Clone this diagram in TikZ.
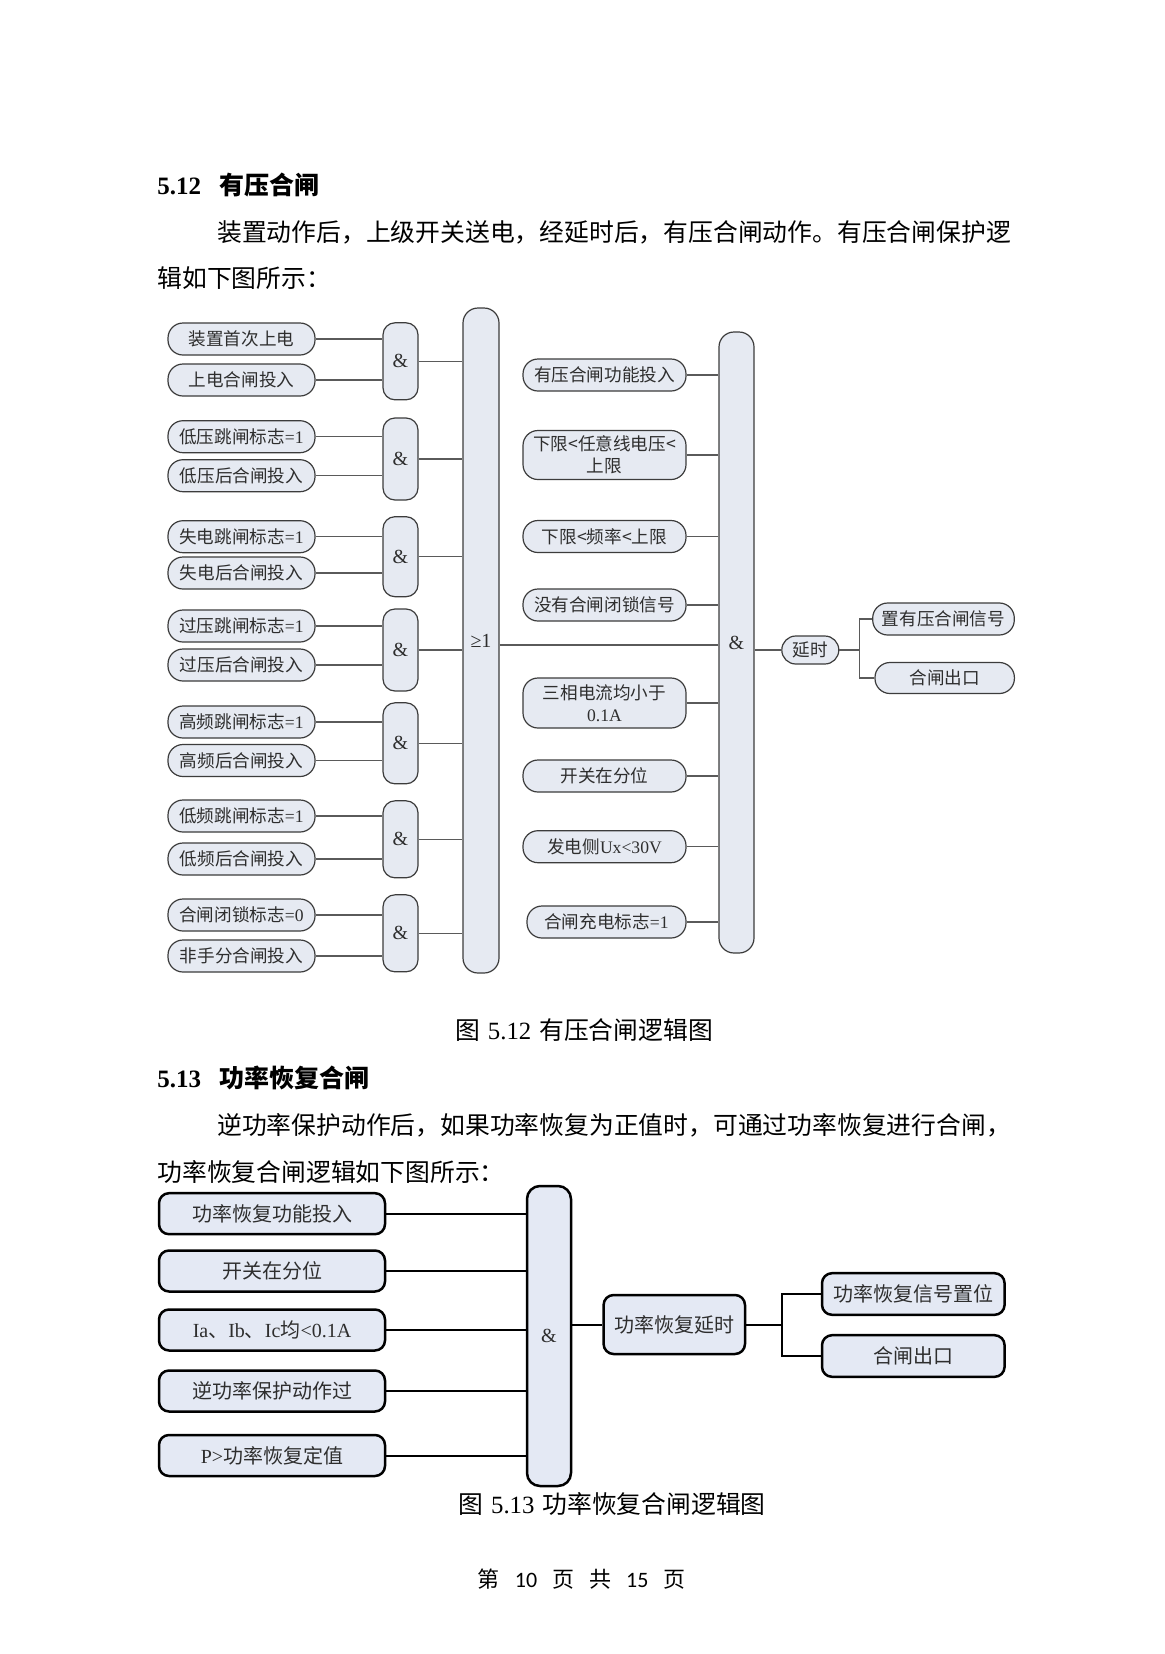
\documentclass[tikz,border=0pt]{standalone}
\usepackage{fontspec}
\setmainfont{Liberation Serif}
\newfontfamily\cjk{Noto Sans CJK SC}
\newfontfamily\calib{Carlito}
\newcommand\lat[1]{{\rmfamily #1}}
\definecolor{fillA}{HTML}{E6EAF2}
\definecolor{edgeA}{HTML}{3C3C3C}
\definecolor{wireAc}{HTML}{5A5A5A}
\definecolor{fillB}{HTML}{E4E9F4}
\definecolor{txtA}{HTML}{2E2E2E}
\begin{document}
\begin{tikzpicture}[x=0.5pt,y=-0.5pt,
  inA/.style={draw=edgeA, fill=fillA, line width=0.6pt, rounded corners=7.5pt,
    minimum width=73.5pt, minimum height=16pt, inner sep=0pt, text=txtA,
    align=center, font=\cjk\fontsize{8.8}{11.2}\selectfont},
  gateA/.style={draw=edgeA, fill=fillA, line width=0.6pt, rounded corners=6pt,
    minimum width=17.5pt, inner sep=0pt, text=txtA, font=\rmfamily\fontsize{10}{12}\selectfont},
  wireA/.style={draw=wireAc, line width=0.6pt},
  boxB/.style={draw=black, fill=fillB, line width=1.25pt, rounded corners=5pt,
    minimum width=113pt, minimum height=20.5pt, inner sep=0pt, text=txtA,
    font=\cjk\fontsize{10}{12}\selectfont},
  wireB/.style={draw=black, line width=1pt},
  body/.style={inner sep=0pt, text=black, font=\cjk\fontsize{12.4}{15}\selectfont},
  head/.style={inner sep=0pt, text=black, font=\bfseries\fontsize{12.5}{15}\selectfont}
]
\useasboundingbox (0,0) rectangle (1165,1654);
\fill[white] (0,0) rectangle (1165,1654);

% ---------- text ----------
\node[head, anchor=west] (h1) at (157,185) {5.12\hspace{9pt}{\cjk 有压合闸}};
\node[body, anchor=west] (t1) at (216.8,232.7) {装置动作后，上级开关送电，经延时后，有压合闸动作。有压合闸保护逻};
\node[body, anchor=west] (t2) at (157,278) {辑如下图所示：};
\node[body] (cap1) at (584,1030) {图\hspace{4pt}\lat{5.12}\hspace{4pt}有压合闸逻辑图};
\node[head, anchor=west] (h2) at (157,1078) {5.13\hspace{9pt}{\cjk 功率恢复合闸}};
\node[body, anchor=west] (t3) at (216.8,1125) {逆功率保护动作后，如果功率恢复为正值时，可通过功率恢复进行合闸，};
\node[body, anchor=west] (t4) at (157,1172) {功率恢复合闸逻辑如下图所示：};
\node[body] (cap2) at (612,1504) {图\hspace{4pt}\lat{5.13}\hspace{4pt}功率恢复合闸逻辑图};
\node[inner sep=0pt, font=\cjk\fontsize{11}{13}\selectfont] (foot) at (581.7,1579)
  {第\hspace{7.5pt}{\calib 10}\hspace{7.5pt}页\hspace{7.5pt}共\hspace{7.5pt}{\calib 15}\hspace{7.5pt}页};

% ---------- diagram 5.12: inputs ----------
\node[inA] (a1) at (241.5,339) {装置首次上电};
\node[inA] (a2) at (241.5,380) {上电合闸投入};
\node[inA] (b1) at (241.5,436.7) {低压跳闸标志\lat{=1}};
\node[inA] (b2) at (241.5,475.7) {低压后合闸投入};
\node[inA] (c1) at (241.5,536.7) {失电跳闸标志\lat{=1}};
\node[inA] (c2) at (241.5,573) {失电后合闸投入};
\node[inA] (d1) at (241.5,626) {过压跳闸标志\lat{=1}};
\node[inA] (d2) at (241.5,665) {过压后合闸投入};
\node[inA] (e1) at (241.5,722) {高频跳闸标志\lat{=1}};
\node[inA] (e2) at (241.5,760.5) {高频后合闸投入};
\node[inA] (f1) at (241.5,816) {低频跳闸标志\lat{=1}};
\node[inA] (f2) at (241.5,859) {低频后合闸投入};
\node[inA] (g1) at (241.5,915) {合闸闭锁标志\lat{=0}};
\node[inA] (g2) at (241.5,956) {非手分合闸投入};

% gates
\node[gateA, minimum height=38.5pt] (ga) at (400.5,361.3) {\&};
\node[gateA, minimum height=41pt] (gb) at (400.5,459) {\&};
\node[gateA, minimum height=40pt] (gc) at (400.5,556.7) {\&};
\node[gateA, minimum height=41pt] (gd) at (400.5,650) {\&};
\node[gateA, minimum height=40.5pt] (ge) at (400.5,743.3) {\&};
\node[gateA, minimum height=38.5pt] (gf) at (400.5,839.3) {\&};
\node[gateA, minimum height=38.5pt] (gg) at (400.5,933.3) {\&};

\node[gateA, minimum width=18pt, minimum height=332.5pt, rounded corners=7.5pt] (or) at (481,640.5) {≥1};

\foreach \i/\g in {a1/ga,a2/ga,b1/gb,b2/gb,c1/gc,c2/gc,d1/gd,d2/gd,e1/ge,e2/ge,f1/gf,f2/gf,g1/gg,g2/gg}
  \draw[wireA] (\i.east) -- (\i.east -| \g.west);
\foreach \g in {ga,gb,gc,gd,ge,gf,gg}
  \draw[wireA] (\g.east) -- (\g.east -| or.west);

% right side
\node[inA, minimum width=81.5pt] (r1) at (604.5,375) {有压合闸功能投入};
\node[inA, minimum width=81.5pt, minimum height=24.5pt] (r2) at (604.5,455) {下限<任意线电压<\\上限};
\node[inA, minimum width=81.5pt] (r3) at (604.5,536.5) {下限<频率<上限};
\node[inA, minimum width=81.5pt] (r4) at (604.5,605) {没有合闸闭锁信号};
\node[inA, minimum width=81.5pt, minimum height=25pt] (r5) at (604.5,703) {三相电流均小于\\\lat{0.1A}};
\node[inA, minimum width=81.5pt] (r6) at (604.5,776) {开关在分位};
\node[inA, minimum width=81.5pt] (r7) at (604.5,846.7) {发电侧\lat{Ux<30V}};
\node[inA, minimum width=79.5pt] (r8) at (606.5,922) {合闸充电标志\lat{=1}};

\node[gateA, minimum width=17.5pt, minimum height=310.5pt, rounded corners=7.5pt] (band) at (736.5,642.5) {\&};

\foreach \r in {r1,r2,r3,r4,r5,r6,r7,r8}
  \draw[wireA] (\r.east) -- (\r.east -| band.west);
\draw[wireA] ([yshift=-2.25pt]or.east) -- ([yshift=-2.25pt]or.east -| band.west);

\node[inA, minimum width=28.5pt, minimum height=14pt, rounded corners=7pt] (delay) at (810.3,650) {延时};
\draw[wireA] (band.east |- delay.west) -- (delay.west);
\coordinate (j1) at (859.3,650);
\node[inA, minimum width=70.8pt] (o1) at (943.5,619) {置有压合闸信号};
\node[inA, minimum width=69.7pt, minimum height=15.5pt] (o2) at (944.7,678) {合闸出口};
\draw[wireA] (delay.east) -- (j1);
\draw[wireA] (o1.west) -| (j1) |- (o2.west);

% ---------- diagram 5.13 ----------
\node[boxB] (p1) at (272,1213.7) {功率恢复功能投入};
\node[boxB] (p2) at (272,1271) {开关在分位};
\node[boxB] (p3) at (272,1330) {\lat{Ia}、\lat{Ib}、\lat{Ic}均\lat{<0.1A}};
\node[boxB] (p4) at (272,1391) {逆功率保护动作过};
\node[boxB] (p5) at (272,1455.5) {\lat{P>}功率恢复定值};
\node[boxB, minimum width=22pt, minimum height=150pt, rounded corners=6.5pt,
  font=\rmfamily\fontsize{10}{12}\selectfont] (pand) at (549,1336) {\&};
\foreach \p in {p1,p2,p3,p4,p5}
  \draw[wireB] (\p.east) -- (\p.east -| pand.west);
\node[boxB, minimum width=70.7pt, minimum height=29.5pt] (pdel) at (674.3,1324.5) {功率恢复延时};
\draw[wireB] (pand.east |- pdel.west) -- (pdel.west);
\coordinate (j2) at (782,1324.5);
\node[boxB, minimum width=91.3pt, minimum height=20.8pt] (q1) at (913.3,1294) {功率恢复信号置位};
\node[boxB, minimum width=91.3pt, minimum height=20.8pt] (q2) at (913.3,1356) {合闸出口};
\draw[wireB] (pdel.east) -- (j2);
\draw[wireB] (q1.west) -| (j2) |- (q2.west);
\end{tikzpicture}
\end{document}
